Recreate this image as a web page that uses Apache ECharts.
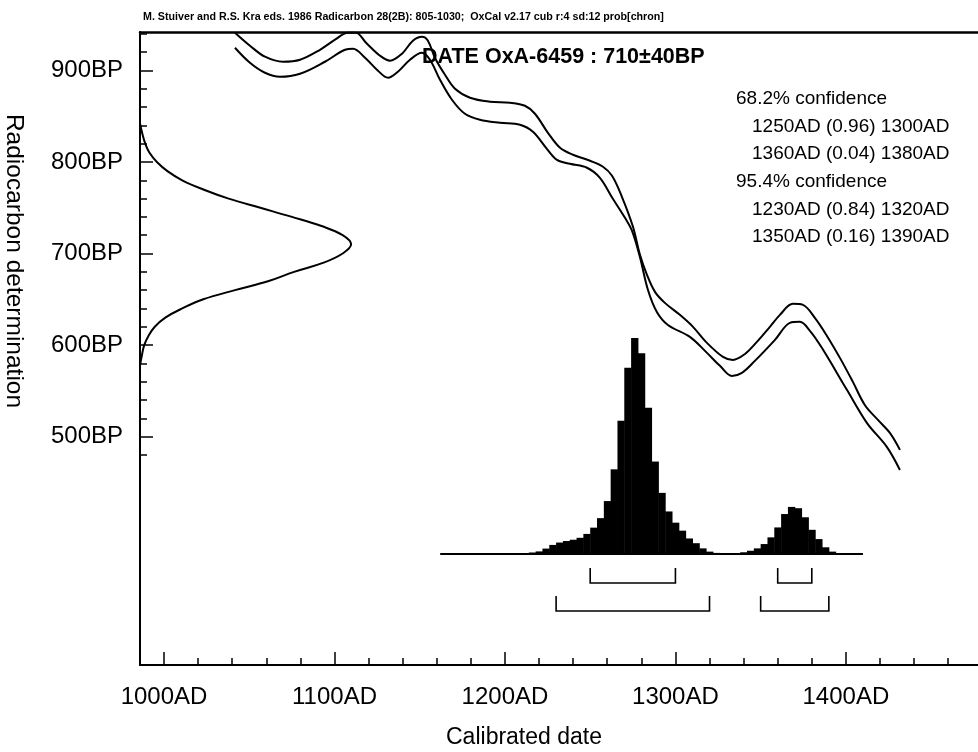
<!DOCTYPE html>
<html>
<head>
<meta charset="utf-8">
<title>OxA-6459 calibration</title>
<script src="https://cdn.jsdelivr.net/npm/echarts@6/dist/echarts.min.js"></script>
<style>
html, body { margin: 0; padding: 0; background: #fff; }
#chart { width: 978px; height: 752px; }
</style>
</head>
<body>
<div id="chart"></div>
<script>
// calibration curve envelope, [calendar year AD, radiocarbon age BP]
var curveUpper = [[1041.6,941.2],[1050.4,927.0],[1059.2,915.0],[1069.8,909.5],[1079.8,911.7],[1091.5,922.6],[1100.3,933.6],[1107.9,941.2],[1112.6,941.2],[1118.5,930.3],[1126.7,916.1],[1132.6,910.6],[1139.6,918.3],[1146.0,932.5],[1151.3,936.8],[1154.8,932.5],[1158.9,913.9],[1164.8,895.3],[1170.7,880.0],[1179.5,870.2],[1191.2,865.8],[1202.9,864.7],[1211.7,861.4],[1217.6,852.7],[1225.2,831.9],[1232.3,815.5],[1239.9,807.9],[1249.9,801.3],[1257.5,794.8],[1262.8,784.9],[1268.6,762.0],[1275.1,729.2],[1279.2,698.6],[1283.3,676.7],[1288.0,658.1],[1293.8,646.1],[1302.6,633.0],[1310.3,619.9],[1318.5,602.4],[1327.9,587.1],[1333.7,583.8],[1340.8,590.3],[1347.8,603.5],[1355.4,619.9],[1361.3,633.0],[1368.9,645.0],[1374.8,643.9],[1381.8,629.7],[1388.9,610.0],[1396.5,586.0],[1404.1,559.8],[1411.1,534.6],[1418.8,518.2],[1425.8,504.0],[1431.7,485.5]];
var curveLower = [[1041.6,924.8],[1050.4,908.4],[1059.2,897.5],[1068.0,893.1],[1079.8,896.4],[1094.4,909.5],[1106.2,922.6],[1110.9,923.7],[1117.9,913.9],[1125.5,899.7],[1131.4,892.0],[1137.2,898.6],[1144.3,911.7],[1151.3,919.3],[1156.0,911.7],[1161.9,889.8],[1168.9,868.0],[1176.5,852.7],[1185.3,846.1],[1197.1,842.8],[1208.8,840.7],[1216.4,833.0],[1224.6,814.4],[1230.5,802.4],[1238.1,798.0],[1248.1,793.7],[1255.7,782.7],[1263.3,759.8],[1270.4,739.0],[1274.5,725.0],[1279.2,696.0],[1283.9,660.2],[1289.1,636.2],[1295.6,622.0],[1308.5,608.9],[1318.5,591.5],[1326.1,577.3],[1333.1,566.3],[1339.0,569.6],[1346.6,582.7],[1358.4,605.7],[1367.2,624.3],[1373.0,625.4],[1378.9,615.6],[1385.9,597.0],[1400.6,551.1],[1412.3,515.0],[1424.0,488.8],[1431.7,463.6]];

// measured radiocarbon date, relative probability per BP value
var measuredBP   = [842, 830, 820, 810, 800, 790, 780, 770, 760, 750, 740, 730, 720, 710, 700, 690, 680, 670, 660, 650, 640, 630, 620, 610, 600, 590, 578];
var measuredProb = [0, 0.012, 0.025, 0.045, 0.08, 0.13, 0.2, 0.3, 0.42, 0.57, 0.72, 0.86, 0.96, 1.0, 0.96, 0.87, 0.73, 0.61, 0.45, 0.3, 0.2, 0.12, 0.07, 0.04, 0.02, 0.01, 0];

// calibrated distribution, 4 year bins (start year) and relative probability
var histStart = [1206,1210,1214,1218,1222,1226,1230,1234,1238,1242,1246,1250,1254,1258,1262,1266,1270,1274,1278,1282,1286,1290,1294,1298,1302,1306,1310,1314,1318,1322,1326,1330,1334,1338,1342,1346,1350,1354,1358,1362,1366,1370,1374,1378,1382,1386,1390,1394];
var histProb  = [0.002,0.004,0.007,0.012,0.025,0.042,0.053,0.060,0.066,0.075,0.093,0.122,0.166,0.245,0.392,0.617,0.862,1.0,0.93,0.677,0.428,0.283,0.197,0.145,0.108,0.072,0.05,0.026,0.011,0.005,0.002,0.002,0.004,0.008,0.015,0.026,0.046,0.077,0.123,0.185,0.218,0.212,0.17,0.112,0.069,0.031,0.011,0.004];
var histBaseline = [1162, 1410];
var binWidth = 4;

// confidence ranges
var range68 = [[1250, 1300], [1360, 1380]];
var range95 = [[1230, 1320], [1350, 1390]];

// ticks
var xMajorTicks = [1000, 1100, 1200, 1300, 1400];
var xMinorTicks = [1000, 1020, 1040, 1060, 1080, 1100, 1120, 1140, 1160, 1180, 1200, 1220, 1240, 1260, 1280, 1300, 1320, 1340, 1360, 1380, 1400, 1420, 1440, 1460];
var yMajorTicks = [500, 600, 700, 800, 900];
var yMinorTicks = [480, 500, 520, 540, 560, 580, 600, 620, 640, 660, 680, 700, 720, 740, 760, 780, 800, 820, 840, 860, 880, 900, 920, 940];

var headerText = 'M. Stuiver and R.S. Kra eds. 1986 Radicarbon 28(2B): 805-1030;  OxCal v2.17 cub r:4 sd:12 prob[chron]';
var dateText = 'DATE OxA-6459 : 710\u00b140BP';
var confidenceText = ['68.2% confidence', '1250AD (0.96) 1300AD', '1360AD (0.04) 1380AD',
                      '95.4% confidence', '1230AD (0.84) 1320AD', '1350AD (0.16) 1390AD'];

var FONT = '"Liberation Sans", Arial, sans-serif';

var chart = echarts.init(document.getElementById('chart'));

/* Axis ranges. */
var xMin = 985.9, xMax = 1477.5;
var yMin = 250.5, yMax = 942;
var densMax = 3.97;           // measured date curve axis
var probMin = -0.514, probMax = 2.417;  // calibrated histogram axis

function bracketSeries(ranges, barLevel, endLevel) {
    return {
        type: 'custom',
        xAxisIndex: 0,
        yAxisIndex: 2,
        data: ranges,
        silent: true,
        renderItem: function (params, api) {
            var a = api.coord([api.value(0), endLevel]);
            var b = api.coord([api.value(0), barLevel]);
            var c = api.coord([api.value(1), barLevel]);
            var d = api.coord([api.value(1), endLevel]);
            return {
                type: 'polyline',
                shape: { points: [a, b, c, d] },
                style: { stroke: '#000', lineWidth: 1.6, fill: null }
            };
        }
    };
}

var confidenceGraphics = confidenceText.map(function (t, i) {
    var header = t.indexOf('confidence') >= 0;
    return {
        type: 'text',
        x: header ? 736 : 752,
        y: 99 + i * 27.6,
        style: {
            text: t, font: '19px ' + FONT, fill: '#000',
            align: 'left', verticalAlign: 'middle'
        }
    };
});

var option = {
    backgroundColor: '#fff',
    animation: false,
    grid: { left: 140, right: 0, top: 32, bottom: 87 },
    xAxis: [
        {
            type: 'value', min: xMin, max: xMax, position: 'bottom',
            axisLine: { show: true, onZero: false, lineStyle: { color: '#000', width: 2 } },
            axisTick: { show: true, inside: true, length: 7, customValues: xMinorTicks, lineStyle: { color: '#000', width: 1.5 } },
            axisLabel: {
                customValues: xMajorTicks, margin: 20, fontSize: 24, fontFamily: FONT, color: '#000',
                formatter: function (v) { return v + 'AD'; }
            },
            splitLine: { show: false }
        },
        {
            type: 'value', min: xMin, max: xMax, position: 'bottom', offset: 0,
            axisLine: { show: false, onZero: false },
            axisTick: { show: true, inside: true, length: 13, customValues: xMajorTicks, lineStyle: { color: '#000', width: 1.5 } },
            axisLabel: { show: false },
            splitLine: { show: false }
        },
        {
            type: 'value', min: xMin, max: xMax, position: 'top',
            axisLine: { show: true, onZero: false, lineStyle: { color: '#000', width: 2.5 } },
            axisTick: { show: false }, axisLabel: { show: false }, splitLine: { show: false }
        },
        { type: 'value', min: 0, max: densMax, show: false, axisLine: { onZero: false } }
    ],
    yAxis: [
        {
            type: 'value', min: yMin, max: yMax, position: 'left',
            axisLine: { show: true, onZero: false, lineStyle: { color: '#000', width: 2 } },
            axisTick: { show: true, inside: true, length: 7, customValues: yMinorTicks, lineStyle: { color: '#000', width: 1.5 } },
            axisLabel: {
                customValues: yMajorTicks, margin: 17, fontSize: 24, fontFamily: FONT, color: '#000',
                formatter: function (v) { return v + 'BP'; }
            },
            splitLine: { show: false }
        },
        {
            type: 'value', min: yMin, max: yMax, position: 'left', offset: 0,
            axisLine: { show: false, onZero: false },
            axisTick: { show: true, inside: true, length: 13, customValues: yMajorTicks, lineStyle: { color: '#000', width: 1.5 } },
            axisLabel: { show: false },
            splitLine: { show: false }
        },
        { type: 'value', min: probMin, max: probMax, show: false, axisLine: { onZero: false } }
    ],
    graphic: [
        {
            type: 'text', x: 143, y: 17,
            style: { text: headerText, font: 'bold 10.7px ' + FONT, fill: '#000', align: 'left', verticalAlign: 'middle' }
        },
        {
            type: 'text', x: 422, y: 57, z: 100,
            style: { text: dateText, font: 'bold 21.5px ' + FONT, fill: '#000', align: 'left', verticalAlign: 'middle' }
        },
        {
            type: 'text', x: 14, y: 261, rotation: -Math.PI / 2,
            style: { text: 'Radiocarbon determination', font: '24.5px ' + FONT, fill: '#000', align: 'center', verticalAlign: 'middle' }
        },
        {
            type: 'text', x: 524, y: 738,
            style: { text: 'Calibrated date', font: '23px ' + FONT, fill: '#000', align: 'center', verticalAlign: 'middle' }
        }
    ].concat(confidenceGraphics),
    series: [
        {
            name: 'curve upper', type: 'line', xAxisIndex: 0, yAxisIndex: 0,
            data: curveUpper, smooth: 0.35, showSymbol: false, silent: true,
            lineStyle: { color: '#000', width: 2 }
        },
        {
            name: 'curve lower', type: 'line', xAxisIndex: 0, yAxisIndex: 0,
            data: curveLower, smooth: 0.35, showSymbol: false, silent: true,
            lineStyle: { color: '#000', width: 2 }
        },
        {
            name: 'measured', type: 'line', xAxisIndex: 3, yAxisIndex: 0,
            data: measuredProb.map(function (p, i) { return [p, measuredBP[i]]; }),
            smooth: 0.4, showSymbol: false, silent: true,
            lineStyle: { color: '#000', width: 2 }
        },
        {
            name: 'baseline', type: 'line', xAxisIndex: 0, yAxisIndex: 2,
            data: [[histBaseline[0], 0], [histBaseline[1], 0]],
            showSymbol: false, silent: true,
            lineStyle: { color: '#000', width: 2 }
        },
        {
            name: 'calibrated', type: 'custom', xAxisIndex: 0, yAxisIndex: 2,
            data: histStart.map(function (s, i) { return [s, histProb[i]]; }),
            silent: true,
            renderItem: function (params, api) {
                var p0 = api.coord([api.value(0), 0]);
                var p1 = api.coord([api.value(0) + binWidth, api.value(1)]);
                return {
                    type: 'rect',
                    shape: { x: p0[0], y: p1[1], width: p1[0] - p0[0] + 0.5, height: p0[1] - p1[1] },
                    style: { fill: '#000' }
                };
            }
        },
        bracketSeries(range68, -0.134, -0.065),
        bracketSeries(range95, -0.264, -0.194)
    ]
};
chart.setOption(option);

/* Responsiveness. */
window.addEventListener('resize', function () {
    chart.resize();
});
</script>
</body>
</html>
